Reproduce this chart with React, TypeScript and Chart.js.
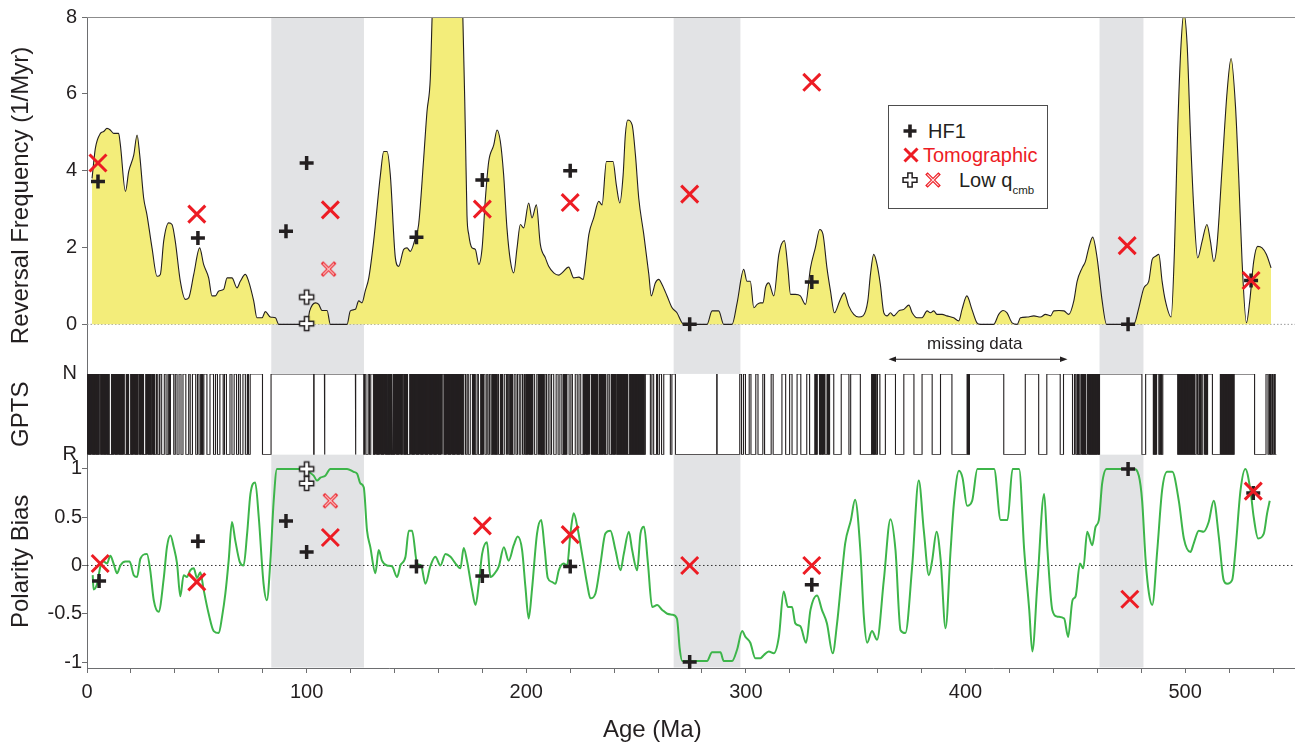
import React, { useEffect, useRef } from 'react';
import { Chart, registerables } from 'chart.js';

Chart.register(...registerables);

const FONT = "'Liberation Sans', Arial, Helvetica, sans-serif";
const INK = '#231f20';
const RED = '#ed1c24';
const GREEN = '#3db54a';
const YELLOW = '#f3ed7a';
const BAND = '#e2e3e5';
const AXIS = '#6d6e70';

// ---------- axes / ticks ----------
const xTicks = [0, 20, 40, 60, 80, 100, 120, 140, 160, 180, 200, 220, 240, 260, 280, 300, 320, 340, 360, 380, 400, 420, 440, 460, 480, 500, 520, 540];
const revTicks = [0, 1, 2, 3, 4, 5, 6, 7, 8];
const gptsTicks = [0, 1];
const gptsTickLabels = ['R', 'N'];
const biasTicks = [-1, -0.5, 0, 0.5, 1];

// grey intervals (Ma)
const grayBands: [number, number][] = [[83.9, 126.1], [267.1, 297.5], [461, 481]];

// ---------- reversal frequency (age Ma, 1/Myr) ----------
const revCurve: [number, number][] = [
  [2.3, 3.8], [3.8, 4.58], [6.1, 4.97], [7.6, 5.02], [9.1, 5.1], [10.6, 5.06], [12.1, 4.97], [14.4, 4.97], [15.2, 4.67],
  [17.5, 3.46], [19.0, 3.98], [21.3, 4.41], [22.8, 4.93], [24.0, 4.41], [25.8, 3.29], [27.3, 2.85], [29.6, 1.99],
  [31.9, 1.25], [33.4, 1.3], [34.9, 2.16], [37.2, 2.64], [38.7, 2.6], [40.2, 2.16], [42.5, 1.12], [44.8, 0.65],
  [46.3, 0.69], [48.6, 1.3], [51.3, 1.99], [53.1, 1.56], [55.4, 1.21], [56.9, 0.74], [58.4, 0.74], [60.0, 0.87],
  [62.2, 0.91], [63.8, 1.21], [66.0, 1.21], [68.3, 0.95], [69.8, 1.12], [72.1, 1.3], [73.6, 1.12], [75.9, 0.61],
  [77.4, 0.17], [79.7, 0.17], [81.2, 0.33], [83.5, 0.19], [85.8, 0.17], [87.3, 0], [100.2, 0], [101.4, 0.35],
  [104.0, 0.56], [105.5, 0.52], [107.0, 0.36], [109.3, 0.36], [110.8, 0], [118.4, 0], [119.9, 0.35], [122.2, 0.39],
  [123.7, 0.61], [125.2, 0.56], [126.7, 0.87], [128.3, 1.21], [130.5, 2.16], [133.6, 3.89], [135.1, 4.5], [136.6, 4.5],
  [138.1, 3.89], [140.4, 1.73], [141.9, 1.51], [144.2, 1.95], [145.7, 1.99], [147.2, 1.9], [149.5, 2.25], [151.0, 2.6],
  [153.3, 4.33], [154.8, 5.54], [156.3, 6.4], [157.3, 8.3], [158.5, 9.5], [164.0, 10], [169.5, 9.5], [171.0, 8.3],
  [172.3, 4.93], [173.0, 2.85], [173.8, 2.34], [175.3, 1.99], [176.8, 1.95], [178.4, 1.56], [179.9, 1.99], [181.4, 3.29],
  [182.9, 4.24], [185.2, 4.67], [186.7, 5.06], [188.2, 4.76], [189.7, 3.89], [191.2, 2.51], [192.8, 1.64], [194.3, 1.34],
  [195.8, 1.99], [197.3, 2.6], [198.8, 2.51], [201.1, 3.16], [202.6, 2.77], [204.6, 3.11], [206.4, 2.08], [208.7, 1.73],
  [210.2, 1.51], [212.5, 1.34], [214.8, 1.28], [216.3, 1.34], [219.3, 1.49], [221.6, 1.21], [223.9, 1.23], [225.9, 1.17],
  [226.9, 1.56], [228.5, 2.34], [230.7, 2.77], [233.0, 3.2], [234.5, 3.11], [236.5, 4.24], [239.5, 4.24], [241.0, 3.63],
  [242.6, 3.16], [244.1, 3.89], [245.1, 4.93], [246.2, 5.32], [248.2, 5.19], [249.7, 4.41], [251.2, 3.29], [253.5, 2.34],
  [255.8, 1.3], [256.9, 0.74], [258.8, 1.08], [260.3, 1.17], [261.8, 1.04], [264.1, 0.74], [266.4, 0.43], [268.6, 0.3],
  [270.9, 0.04], [271.7, 0], [282.3, 0], [284.6, 0.35], [287.6, 0.35], [289.9, 0], [293.7, 0], [296.0, 0.56],
  [299.0, 1.43], [300.5, 1.12], [302.0, 1.12], [303.6, 0.43], [305.1, 0.52], [306.6, 0.56], [307.8, 0.56], [308.9, 0.95],
  [310.4, 1.08], [312.7, 0.74], [315.0, 1.82], [317.5, 2.18], [319.1, 1.47], [320.3, 0.78], [322.5, 0.78], [324.8, 0.74],
  [327.1, 0.52], [329.4, 1.47], [331.6, 1.99], [333.6, 2.47], [335.1, 2.34], [336.9, 1.47], [338.5, 0.87], [340.3, 0.3],
  [342.7, 0.61], [344.8, 0.82], [346.8, 0.48], [349.1, 0.26], [351.4, 0.19], [353.3, 0.22], [355.5, 0.61], [356.7, 1.3],
  [358.2, 1.82], [359.7, 1.56], [361.2, 1.04], [362.8, 0.3], [364.3, 0.22], [365.8, 0.3], [367.3, 0.22], [369.6, 0.35],
  [371.9, 0.39], [374.2, 0.5], [375.7, 0.3], [377.9, 0.17], [380.2, 0.17], [382.5, 0.35], [384.0, 0.3], [385.5, 0.35],
  [387.0, 0.26], [389.3, 0.26], [391.5, 0.22], [394.6, 0.17], [396.9, 0.09], [398.4, 0.39], [400.6, 0.74], [402.9, 0.39],
  [405.2, 0.04], [406.7, 0], [412.8, 0], [415.1, 0.26], [417.1, 0.36], [418.9, 0.3], [421.2, 0.04], [423.5, 0],
  [425.0, 0.17], [428.0, 0.19], [431.1, 0.22], [434.1, 0.19], [436.4, 0.26], [438.7, 0.22], [440.2, 0.35], [442.5, 0.36],
  [444.8, 0.35], [447.0, 0.26], [449.3, 0.61], [450.8, 1.12], [453.1, 1.47], [454.6, 1.64], [456.1, 1.99], [457.9, 2.27],
  [459.9, 1.73], [462.2, 0.61], [464.2, 0], [476.6, 0], [478.9, 0.43], [481.2, 0.95], [483.4, 1.12], [485.0, 1.69],
  [486.5, 1.77], [488.0, 1.82], [489.5, 1.12], [491.0, 0.61], [493.6, 0.19], [495.1, 1.9], [496.6, 5.1], [498.1, 7.27],
  [499.4, 8.1], [500.9, 7.27], [502.4, 4.93], [503.9, 3.03], [505.7, 1.73], [507.7, 2.16], [509.9, 2.6], [511.5, 2.16],
  [513.0, 1.64], [514.5, 2.08], [516.8, 4.07], [519.1, 6.06], [520.9, 6.92], [522.9, 5.68], [524.4, 3.81], [525.9, 1.64],
  [527.9, 0.04], [529.4, 0.61], [531.2, 1.64], [533.0, 2.03], [535.0, 1.99], [537.0, 1.82], [539.1, 1.47],
];

// ---------- polarity bias (age Ma, bias) ----------
const biasCurve: [number, number][] = [
  [2.6, -0.1], [3.0, -0.25], [4.6, -0.19], [6.1, -0.01], [7.6, 0.04], [9.1, 0.02], [10.6, 0.1], [12.1, 0.02], [13.7, -0.08],
  [15.2, 0.0], [17.5, 0.04], [19.4, 0.04], [21.3, -0.1], [22.8, -0.12], [24.3, 0.07], [27.3, 0.12], [28.8, -0.05],
  [30.4, -0.36], [32.6, -0.48], [35.0, -0.12], [36.4, 0.19], [38.0, 0.31], [39.5, 0.19], [41.0, 0.02], [42.5, -0.32],
  [44.0, -0.1], [45.5, -0.12], [47.0, -0.05], [48.6, -0.03], [50.1, -0.13], [51.6, -0.07], [53.1, -0.25], [55.4, -0.5],
  [57.7, -0.68], [60.0, -0.7], [61.5, -0.53], [63.0, -0.29], [64.5, 0.05], [66.0, 0.45], [67.5, 0.26], [69.5, 0.04],
  [71.3, 0.0], [72.9, 0.33], [74.4, 0.74], [76.6, 0.86], [78.2, 0.5], [80.4, -0.19], [81.9, -0.36], [83.5, 0.05],
  [85.0, 0.67], [86.5, 1.0], [97.1, 1.0], [100.2, 0.98], [103.2, 0.93], [104.7, 0.88], [106.3, 0.91], [108.5, 0.93],
  [110.8, 1.0], [118.4, 1.0], [121.4, 0.97], [123.0, 0.95], [124.5, 0.85], [126.0, 0.81], [127.5, 0.36], [129.0, 0.19],
  [131.3, -0.08], [132.8, 0.16], [134.3, 0.05], [136.6, 0.0], [138.9, -0.01], [141.2, -0.12], [142.7, 0.0], [145.0, 0.09],
  [146.5, 0.36], [148.0, 0.36], [150.3, 0.02], [152.1, 0.0], [154.1, -0.19], [156.3, -0.01], [158.6, 0.09], [160.9, 0.0],
  [163.2, 0.12], [165.5, 0.09], [167.8, 0.02], [170.0, -0.03], [171.5, 0.18], [173.0, 0.05], [175.3, -0.25], [176.9, -0.41],
  [178.4, -0.19], [179.9, 0.12], [182.1, 0.24], [183.7, -0.12], [186.0, -0.07], [187.5, -0.01], [189.8, 0.19], [192.0, 0.05],
  [194.3, 0.21], [196.1, 0.3], [198.1, 0.16], [199.6, -0.22], [201.1, -0.55], [202.6, -0.25], [204.9, 0.33], [206.8, 0.47],
  [208.3, 0.19], [209.8, -0.13], [211.7, -0.17], [213.3, -0.19], [214.8, -0.05], [217.0, 0.02], [218.6, 0.0], [220.1, 0.33],
  [221.6, 0.54], [223.4, 0.38], [225.4, 0.12], [227.7, -0.19], [229.2, -0.34], [231.5, -0.29], [233.8, 0.02], [236.0, 0.33],
  [238.3, 0.36], [240.6, 0.16], [242.9, -0.05], [244.4, 0.12], [246.7, 0.35], [248.2, 0.16], [250.5, -0.05], [252.0, 0.33],
  [253.6, 0.4], [255.4, 0.02], [257.3, -0.43], [259.6, -0.41], [261.9, -0.46], [264.2, -0.5], [266.5, -0.51], [268.6, -0.55],
  [269.9, -0.87], [271.0, -0.99], [282.3, -0.99], [284.6, -0.9], [288.4, -0.9], [289.9, -0.99], [293.7, -0.99], [296.0, -0.87],
  [298.3, -0.68], [299.8, -0.74], [302.0, -0.8], [304.3, -0.96], [306.6, -0.96], [308.1, -0.93], [310.4, -0.89], [312.7, -0.91],
  [315.0, -0.74], [317.2, -0.27], [319.1, -0.43], [321.0, -0.43], [322.5, -0.6], [324.8, -0.63], [327.4, -0.8], [329.4, -0.46],
  [332.4, -0.31], [334.6, -0.46], [336.9, -0.6], [339.5, -0.91], [341.5, -0.6], [343.3, -0.19], [345.2, 0.23], [347.8, 0.47],
  [349.7, 0.68], [352.1, 0.16], [353.7, -0.53], [355.2, -0.8], [357.4, -0.68], [359.7, -0.77], [362.8, -0.15], [365.8, 0.48],
  [368.1, 0.16], [370.4, -0.67], [372.6, -0.7], [375.7, -0.01], [378.7, 0.88], [381.0, 0.36], [383.3, -0.1], [384.8, 0.05],
  [386.8, 0.35], [388.7, 0.05], [390.9, -0.65], [393.2, 0.16], [394.7, 0.64], [397.0, 0.98], [398.6, 0.91], [400.7, 0.62],
  [403.0, 0.67], [405.4, 1.0], [413.0, 1.0], [416.0, 0.47], [419.1, 0.47], [421.4, 1.0], [424.4, 1.0], [426.7, 0.16],
  [429.0, -0.46], [430.4, -0.89], [432.7, -0.19], [435.8, 0.74], [437.3, 0.16], [439.5, -0.46], [441.8, -0.53], [444.9, -0.55],
  [446.7, -0.74], [448.7, -0.36], [450.1, -0.32], [452.1, 0.02], [453.6, -0.03], [455.4, 0.35], [457.7, 0.21], [459.2, 0.4],
  [460.7, 0.47], [462.2, 0.85], [464.2, 1.0], [476.6, 1.0], [478.9, 0.93], [480.4, 0.67], [482.0, 0.05], [483.5, -0.29],
  [485.0, -0.41], [487.3, 0.16], [489.5, 0.78], [491.8, 0.97], [494.1, 0.97], [497.1, 0.67], [499.4, 0.28], [502.4, 0.14],
  [503.9, 0.23], [506.2, 0.36], [508.4, 0.35], [510.7, 0.45], [513.0, 0.67], [515.3, 0.3], [517.5, -0.15], [519.1, -0.19],
  [521.4, -0.15], [522.9, 0.16], [525.2, 0.78], [527.4, 1.0], [529.7, 0.78], [531.2, 0.5], [533.2, 0.28], [535.8, 0.33],
  [537.3, 0.54], [538.5, 0.67],
];

// ---------- GPTS: normal-polarity intervals and dense (solid) clusters ----------
const gptsNormal: [number, number][] = [
  [0, 0.8], [1.8, 2.6], [3.6, 4.2], [5.6, 6.2], [7.0, 7.6], [8.5, 9.1], [12.0, 12.8], [13.8, 14.5], [16.6, 17.0], [19.6, 20.0],
  [21.0, 21.8], [23.3, 23.9], [24.6, 25.2], [27.0, 27.8], [29.5, 30.0], [31.5, 32.0], [33.2, 34.0], [35.2, 36.0], [37.3, 37.7],
  [38.0, 39.5], [40.2, 41.0], [41.9, 42.8], [43.7, 45.0], [46.3, 47.0], [48.0, 49.5], [50.3, 51.0], [52.0, 52.6], [53.2, 54.6],
  [56.0, 57.6], [58.5, 59.4], [60.5, 62.0], [62.6, 63.5], [65.1, 66.0], [67.0, 68.1], [69.0, 69.8], [71.0, 72.1], [73.0, 73.5],
  [74.3, 79.9], [83.8, 103.2], [103.4, 108.1], [108.3, 122.2], [122.4, 126.0], [126.4, 127.0], [128.0, 128.6], [129.2, 130.4],
  [131, 132], [133, 134], [135, 136], [136.6, 137.0], [138, 138.6], [140, 141], [142, 143], [143.6, 144.2], [145, 145.6],
  [147, 148], [149, 150], [151, 152], [153, 154], [155, 156], [157, 158], [159, 160], [161, 162.5], [163.5, 164.5],
  [165.5, 166.5], [167.5, 168.5], [169.5, 170.5], [171.5, 172.3], [173.0, 173.6], [174.5, 175.5], [176, 176.6], [177.6, 178.2],
  [179.5, 180], [180.5, 181.2], [182.0, 182.6], [183.3, 184.0], [185, 185.6], [187.0, 187.4], [188.5, 189], [190.0, 190.9],
  [191.4, 192.0], [193, 193.5], [194.5, 195.3], [196.0, 196.8], [197.5, 198.3], [199.0, 199.5], [200.5, 201.2], [202, 202.5],
  [203.0, 203.8], [204.8, 205.5], [206.0, 206.5], [207.3, 207.8], [208.5, 209.2], [210.0, 210.8], [211.5, 212.5], [213.6, 214.5],
  [215.3, 216.2], [217.5, 218], [218.5, 219.5], [220.3, 221.0], [222.3, 223.2], [224.0, 224.8], [226.5, 227.2], [228.2, 228.6],
  [229.0, 229.7], [230.5, 231], [232, 232.5], [233.5, 234], [235, 235.6], [237.1, 237.8], [239, 239.6], [240.6, 241.0],
  [242, 242.5], [243.5, 244], [245, 245.5], [247.5, 248], [249, 249.5], [250.5, 251], [252, 252.5], [253, 253.5],
  [254.2, 256.5], [257.2, 258.0], [259.3, 259.8], [260.6, 261.6], [262.6, 265.6], [266.3, 267.9], [286.7, 286.9],
  [297.2, 298.0], [298.9, 299.8], [301.5, 302.3], [304.5, 305.5], [307.7, 308.5], [311.5, 312.4], [316.4, 318.1], [319.9, 321.0],
  [323.3, 325.0], [327.7, 329.0], [331.5, 332], [332.5, 333.5], [334, 334.6], [335.2, 336.0], [337, 337.6], [338.1, 340.0],
  [343.4, 346.9], [347.7, 352.1], [357.4, 358], [358.6, 359.2], [359.9, 361.0], [363.5, 368.1], [371.9, 376.5], [380.2, 384.8],
  [388.6, 393.8], [400.7, 401.2], [401.7, 417.4], [427.2, 433.3], [437.0, 443.1], [444.6, 448.7], [449.6, 450.2], [451, 451.5],
  [452.5, 453], [454, 454.5], [455.5, 456], [457, 457.5], [458.5, 459], [459.6, 460.2], [461.0, 480.3], [482.0, 485.5],
  [486, 486.5], [487.0, 488.0], [488.6, 489.2], [489.8, 496.6], [497.5, 498], [499, 499.5], [500.5, 501], [502, 502.5],
  [503.5, 504], [505.0, 505.6], [506.5, 507], [508.0, 508.8], [509.2, 509.7], [510.2, 512.4], [516, 516.5], [517.5, 518],
  [519, 519.5], [520.5, 521], [521.5, 522], [522.3, 531.6], [536.8, 537.7], [538.3, 538.8], [539.5, 540.0], [540.6, 541.0],
];
const gptsDense: [number, number][] = [
  [0, 5.6], [6.2, 10.4], [10.9, 16.6], [17.6, 19.2], [20.0, 23.3], [23.9, 26.0], [26.5, 29.5], [30.0, 31.0], [32.6, 33.2],
  [36.6, 37.2], [51.5, 52.9], [130.4, 136.6], [137.0, 139.0], [139.3, 143.6], [144.2, 146.2], [146.8, 162.0], [162.5, 171.5],
  [175.6, 177.0], [179.0, 180.3], [184.2, 186.8], [188.0, 189.5], [192.2, 194.0], [199.6, 202.8], [206.6, 208.4],
  [216.6, 218.4], [225.6, 228.9], [229.8, 232.5], [232.9, 236.5], [238.4, 240.5], [241.2, 246.5], [246.8, 254.0],
  [331.2, 332.4], [333.6, 336.0], [336.8, 338.0], [357.0, 359.5], [400.7, 402.0], [450.5, 452], [453, 455], [456, 461.0],
  [485.5, 486.8], [488.2, 489.6], [496.6, 504.6], [506.0, 507.6], [509.0, 510.2], [515.9, 522.3], [538.6, 539.4],
];
const gptsEnd = 541.5;

// ---------- model estimates ----------
const hf1Rev: [number, number][] = [[5, 3.72], [50.5, 2.25], [90.6, 2.42], [100, 4.2], [150, 2.27], [180, 3.76], [220, 4.0], [274.4, 0], [330, 1.1], [474, 0], [530, 1.14]];
const tomoRev: [number, number][] = [[5, 4.2], [50, 2.87], [110.8, 2.98], [180, 3.0], [220, 3.17], [274.4, 3.39], [330, 6.3], [473.6, 2.05], [530, 1.14]];
const lowHf1Rev: [number, number][] = [[100, 0.71], [100, 0.02]];
const lowTomoRev: [number, number][] = [[110, 1.44]];
const hf1Bias: [number, number][] = [[5.5, -0.16], [50.5, 0.25], [90.6, 0.46], [100, 0.14], [150, -0.01], [180, -0.11], [220, -0.01], [274.4, -1.0], [330, -0.2], [474, 1.0], [531, 0.75]];
const tomoBias: [number, number][] = [[6, 0.02], [50, -0.17], [110.8, 0.29], [180, 0.41], [220, 0.32], [274.4, 0], [330, 0], [474.8, -0.35], [531, 0.77]];
const lowHf1Bias: [number, number][] = [[100, 1.0], [100, 0.85]];
const lowTomoBias: [number, number][] = [[110.8, 0.67]];
const zeroLine: [number, number][] = [[0, 0], [550, 0]];

function pts(a: [number, number][]) {
  return a.map(([x, y]) => ({ x, y }));
}

function gptsSquareWave() {
  const out: { x: number; y: number }[] = [];
  out.push({ x: 0, y: gptsNormal[0][0] <= 0 ? 1 : 0 });
  for (const [s, e] of gptsNormal) {
    if (s > 0) {
      out.push({ x: s, y: 0 });
      out.push({ x: s, y: 1 });
    }
    out.push({ x: e, y: 1 });
    out.push({ x: e, y: 0 });
  }
  out.push({ x: gptsEnd, y: 0 });
  return out;
}

function gptsBlocks() {
  const out: { x: number; y: number }[] = [{ x: 0, y: 0 }];
  for (const [s, e] of gptsDense) {
    out.push({ x: s, y: 0 }, { x: s, y: 1 }, { x: e, y: 1 }, { x: e, y: 0 });
  }
  return out;
}

function makeOutlinePlus() {
  const c = document.createElement('canvas');
  c.width = 19;
  c.height = 19;
  const g = c.getContext('2d')!;
  const m = 9.5;
  g.lineCap = 'butt';
  g.strokeStyle = INK;
  g.lineWidth = 5.8;
  g.beginPath();
  g.moveTo(m - 7.8, m); g.lineTo(m + 7.8, m);
  g.moveTo(m, m - 7.8); g.lineTo(m, m + 7.8);
  g.stroke();
  g.strokeStyle = '#ffffff';
  g.lineWidth = 2.8;
  g.beginPath();
  g.moveTo(m - 6.3, m); g.lineTo(m + 6.3, m);
  g.moveTo(m, m - 6.3); g.lineTo(m, m + 6.3);
  g.stroke();
  return c;
}

function makeThinX() {
  const c = document.createElement('canvas');
  c.width = 19;
  c.height = 19;
  const g = c.getContext('2d')!;
  const m = 9.5;
  const draw = (d: number) => {
    g.beginPath();
    g.moveTo(m - d, m - d); g.lineTo(m + d, m + d);
    g.moveTo(m + d, m - d); g.lineTo(m - d, m + d);
    g.stroke();
  };
  g.lineCap = 'butt';
  g.strokeStyle = RED;
  g.lineWidth = 3.4;
  draw(6.6);
  g.strokeStyle = '#fde8e8';
  g.lineWidth = 1.1;
  draw(5.6);
  return c;
}

export default function App() {
  const ref = useRef<HTMLCanvasElement>(null);

  useEffect(() => {
    const canvas = ref.current;
    if (!canvas) return;
    const plusImg = makeOutlinePlus();
    const xImg = makeThinX();

    const panelPlugin = {
      id: 'panels',
      beforeDatasetsDraw(chart: any) {
        const { ctx, chartArea: a, scales } = chart;
        const x = scales.x;
        ctx.save();
        ctx.fillStyle = BAND;
        for (const [s, e] of grayBands) {
          const l = x.getPixelForValue(s);
          const r = x.getPixelForValue(e);
          ctx.fillRect(l, a.top, r - l, a.bottom - a.top - 0.5);
        }
        const g = scales.yGpts;
        ctx.fillStyle = '#ffffff';
        ctx.fillRect(a.left + 1, g.top, a.right - a.left - 1, g.bottom - g.top);
        ctx.restore();
      },
      afterDraw(chart: any) {
        const { ctx, chartArea: a } = chart;
        ctx.save();
        ctx.strokeStyle = '#8c8c8c';
        ctx.lineWidth = 1;
        ctx.beginPath();
        ctx.moveTo(a.left, a.top + 0.5);
        ctx.lineTo(a.right, a.top + 0.5);
        ctx.stroke();
        ctx.restore();
      },
    };

    const marker = (data: [number, number][], yAxisID: string, style: any, color: string, radius: number, width: number) => ({
      type: 'line' as const,
      data: pts(data),
      yAxisID,
      showLine: false,
      pointStyle: style,
      pointRadius: radius,
      pointBorderWidth: width,
      pointBorderColor: color,
      pointBackgroundColor: color,
      clip: 12,
    });

    const tickFont = { family: FONT, size: 20 };
    const titleFont = { family: FONT, size: 24 };

    const chart = new Chart(canvas, {
      type: 'line',
      data: {
        datasets: [
          marker(tomoRev, 'yRev', 'crossRot', RED, 12, 3),
          marker(tomoBias, 'yBias', 'crossRot', RED, 12, 3),
          marker(hf1Rev, 'yRev', 'cross', INK, 7, 3.5),
          marker(hf1Bias, 'yBias', 'cross', INK, 7, 3.5),
          marker(lowHf1Rev, 'yRev', plusImg, INK, 9, 1),
          marker(lowHf1Bias, 'yBias', plusImg, INK, 9, 1),
          marker(lowTomoRev, 'yRev', xImg, RED, 9, 1),
          marker(lowTomoBias, 'yBias', xImg, RED, 9, 1),
          {
            data: pts(biasCurve),
            yAxisID: 'yBias',
            borderColor: GREEN,
            borderWidth: 2,
            pointRadius: 0,
            cubicInterpolationMode: 'monotone',
            fill: false,
          },
          {
            data: pts(zeroLine),
            yAxisID: 'yBias',
            borderColor: '#333333',
            borderWidth: 1,
            borderDash: [1.5, 2.5],
            pointRadius: 0,
            fill: false,
          },
          {
            data: pts(revCurve),
            yAxisID: 'yRev',
            borderColor: INK,
            borderWidth: 1.1,
            backgroundColor: YELLOW,
            pointRadius: 0,
            cubicInterpolationMode: 'monotone',
            fill: 'origin',
            clip: 0,
          },
          {
            data: pts(zeroLine),
            yAxisID: 'yRev',
            borderColor: '#9a9a9a',
            borderWidth: 1,
            borderDash: [1.5, 2],
            pointRadius: 0,
            fill: false,
          },
          {
            data: gptsSquareWave(),
            yAxisID: 'yGpts',
            borderColor: INK,
            borderWidth: 1.1,
            pointRadius: 0,
            tension: 0,
            fill: false,
          },
          {
            data: gptsBlocks(),
            yAxisID: 'yGpts',
            borderColor: 'rgba(0,0,0,0)',
            borderWidth: 0,
            backgroundColor: INK,
            pointRadius: 0,
            tension: 0,
            fill: 'origin',
          },
        ] as any,
      },
      options: {
        animation: false,
        responsive: false,
        maintainAspectRatio: false,
        layout: { autoPadding: false, padding: { top: 15, left: 0, right: 0, bottom: 0 } },
        plugins: {
          legend: { display: false },
          tooltip: { enabled: false },
          title: { display: false },
        },
        scales: {
          x: {
            type: 'linear',
            position: 'bottom',
            min: 0,
            max: 550,
            afterBuildTicks: (axis: any) => {
              axis.ticks = xTicks.map((v) => ({ value: v }));
            },
            afterFit: (axis: any) => {
              axis.height = 78;
              axis.paddingLeft = 0;
              axis.paddingRight = 0;
            },
            ticks: {
              autoSkip: false,
              maxRotation: 0,
              padding: 7,
              color: INK,
              font: tickFont,
              callback: (v: any) => (Number(v) % 100 === 0 ? String(v) : ''),
            },
            grid: { drawOnChartArea: false, drawTicks: true, tickLength: 5, color: AXIS },
            border: { display: true, color: AXIS, width: 1 },
            title: { display: false },
          },
          yBias: {
            type: 'linear',
            position: 'left',
            stack: 'panels',
            stackWeight: 214,
            weight: 1,
            min: -1.062,
            max: 1.148,
            afterBuildTicks: (axis: any) => {
              axis.ticks = biasTicks.map((v) => ({ value: v }));
            },
            afterFit: (axis: any) => {
              axis.width = 87;
            },
            ticks: { padding: 0, color: INK, font: tickFont, callback: (v: any) => String(v) },
            grid: { drawOnChartArea: false, tickLength: 5, color: AXIS },
            border: { display: true, color: AXIS, width: 1 },
            title: { display: true, text: 'Polarity Bias', color: INK, font: titleFont, padding: { top: 7, bottom: 0 } },
          },
          yGpts: {
            type: 'linear',
            position: 'left',
            stack: 'panels',
            stackWeight: 81,
            weight: 2,
            min: 0,
            max: 1,
            afterBuildTicks: (axis: any) => {
              axis.ticks = gptsTicks.map((v) => ({ value: v }));
            },
            afterFit: (axis: any) => {
              axis.width = 87;
            },
            ticks: {
              padding: 5,
              color: INK,
              font: tickFont,
              callback: (v: any) => gptsTickLabels[gptsTicks.indexOf(Number(v))] ?? '',
            },
            grid: { drawOnChartArea: false, tickLength: 5, color: 'rgba(0,0,0,0)' },
            border: { display: true, color: AXIS, width: 1 },
            title: { display: true, text: 'GPTS', color: INK, font: titleFont, padding: { top: 7, bottom: 0 } },
          },
          yRev: {
            type: 'linear',
            position: 'left',
            stack: 'panels',
            stackWeight: 358,
            weight: 3,
            min: -1.29,
            max: 8,
            afterBuildTicks: (axis: any) => {
              axis.ticks = revTicks.map((v) => ({ value: v }));
            },
            afterFit: (axis: any) => {
              axis.width = 87;
            },
            ticks: {
              padding: 5,
              color: INK,
              font: tickFont,
              callback: (v: any) => (Number(v) % 2 === 0 ? String(v) : ''),
            },
            grid: { drawOnChartArea: false, tickLength: 5, color: AXIS },
            border: { display: true, color: AXIS, width: 1 },
            title: {
              display: true,
              text: 'Reversal Frequency (1/Myr)',
              color: INK,
              font: titleFont,
              padding: { top: 7, bottom: 0 },
            },
          },
        } as any,
      },
      plugins: [panelPlugin],
    });

    return () => {
      chart.destroy();
    };
  }, []);

  const text = (extra: React.CSSProperties): React.CSSProperties => ({
    position: 'absolute',
    fontFamily: FONT,
    whiteSpace: 'nowrap',
    color: INK,
    ...extra,
  });

  return (
    <div style={{ position: 'absolute', left: 0, top: 0, width: 1295, height: 746, background: '#ffffff', overflow: 'hidden' }}>
      <canvas ref={ref} width={1295} height={746} style={{ position: 'absolute', left: 0, top: 0, width: 1295, height: 746 }} />

      {/* legend */}
      <div style={{ position: 'absolute', left: 888, top: 105, width: 160, height: 104, border: '1px solid #4d4d4d', boxSizing: 'border-box', background: '#ffffff' }} />
      <svg width={16} height={16} style={{ position: 'absolute', left: 902, top: 123 }}>
        <path d="M1.5 8 H14.5 M8 1.5 V14.5" stroke={INK} strokeWidth={3.6} fill="none" />
      </svg>
      <div style={text({ left: 928, top: 119, fontSize: 20, lineHeight: '24px' })}>HF1</div>
      <svg width={18} height={18} style={{ position: 'absolute', left: 902, top: 146 }}>
        <path d="M2.5 2.5 L15.5 15.5 M15.5 2.5 L2.5 15.5" stroke={RED} strokeWidth={3} fill="none" />
      </svg>
      <div style={text({ left: 923, top: 143, fontSize: 20, lineHeight: '24px', color: RED })}>Tomographic</div>
      <svg width={18} height={18} style={{ position: 'absolute', left: 901, top: 171 }}>
        <path d="M1.3 9 H16.7 M9 1.3 V16.7" stroke={INK} strokeWidth={5.8} fill="none" />
        <path d="M2.8 9 H15.2 M9 2.8 V15.2" stroke="#ffffff" strokeWidth={2.8} fill="none" />
      </svg>
      <svg width={18} height={18} style={{ position: 'absolute', left: 924, top: 171 }}>
        <path d="M2.4 2.4 L15.6 15.6 M15.6 2.4 L2.4 15.6" stroke={RED} strokeWidth={3.4} fill="none" />
        <path d="M3.4 3.4 L14.6 14.6 M14.6 3.4 L3.4 14.6" stroke="#fde8e8" strokeWidth={1.1} fill="none" />
      </svg>
      <div style={text({ left: 959, top: 168, fontSize: 20, lineHeight: '24px' })}>
        Low q<span style={{ fontSize: 11.5, position: 'relative', top: 7 }}>cmb</span>
      </div>

      {/* missing data annotation */}
      <div style={text({ left: 927, top: 334, fontSize: 17, lineHeight: '20px' })}>missing data</div>
      <svg width={1295} height={746} style={{ position: 'absolute', left: 0, top: 0, pointerEvents: 'none' }}>
        <line x1={893} y1={359.3} x2={1063} y2={359.3} stroke={INK} strokeWidth={1.1} />
        <polygon points="888.5,359.3 896,356.6 896,362" fill={INK} />
        <polygon points="1067.5,359.3 1060,356.6 1060,362" fill={INK} />
      </svg>

      {/* x-axis title */}
      <div style={text({ left: 603, top: 715, fontSize: 24, lineHeight: '28px' })}>Age (Ma)</div>
    </div>
  );
}
